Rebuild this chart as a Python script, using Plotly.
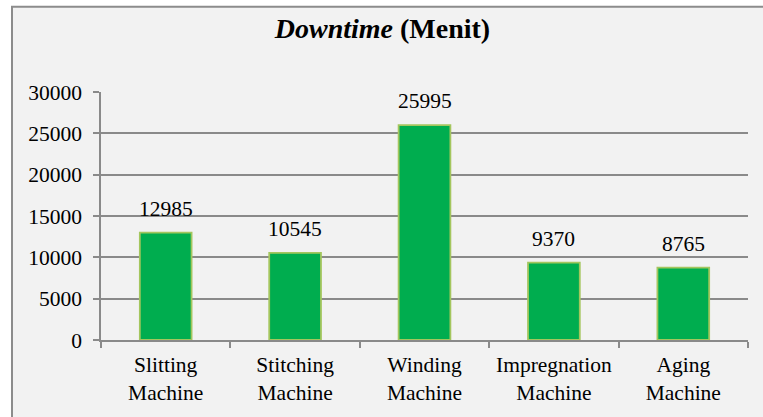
import plotly.graph_objects as go

categories = ["Slitting<br>Machine", "Stitching<br>Machine", "Winding<br>Machine",
              "Impregnation<br>Machine", "Aging<br>Machine"]
values = [12985, 10545, 25995, 9370, 8765]
y_ticks = [0, 5000, 10000, 15000, 20000, 25000, 30000]
y_tick_labels = ["0", "5000", "10000", "15000", "20000", "25000", "30000"]

W, H = 763, 417
ML, MR, MT, MB = 101, 15, 92, 75
pw, ph = W - ML - MR, H - MT - MB

def px_x(p):
    return (p - ML) / pw

def px_y(p):
    return (H - MB - p) / ph

FONT = "Liberation Serif"
FS = 21.5

fig = go.Figure()
fig.add_trace(go.Bar(
    x=categories, y=values,
    marker=dict(color="#00AD4F", line=dict(color="#A4C65E", width=1.8)),
    width=0.4,
    hoverinfo="skip",
))

for c, v in zip(categories, values):
    fig.add_annotation(x=c, y=v, text=str(v), showarrow=False,
                       yanchor="bottom", yshift=10,
                       font=dict(family=FONT, size=FS, color="#000"))

fig.add_shape(type="rect", xref="paper", yref="paper",
              x0=px_x(12), x1=px_x(800), y0=px_y(6), y1=px_y(460),
              fillcolor="#F2F2F2", line=dict(color="#8C8C8C", width=2),
              layer="below")

fig.update_layout(
    width=W, height=H,
    margin=dict(l=ML, r=MR, t=MT, b=MB),
    paper_bgcolor="white",
    plot_bgcolor="rgba(0,0,0,0)",
    showlegend=False,
    title=dict(text="<b><i>Downtime</i> (Menit)</b>", x=382.5 / W, xref="container",
               xanchor="center", y=1 - 28 / H, yanchor="middle",
               font=dict(family=FONT, size=28, color="#000")),
    font=dict(family=FONT, size=FS, color="#000"),
    bargap=0.6,
)
fig.update_yaxes(range=[0, 30000], tickvals=y_ticks, ticktext=y_tick_labels,
                 showgrid=True,
                 gridcolor="#8A8A8A", gridwidth=1.5,
                 showline=True, linecolor="#8A8A8A", linewidth=1.5,
                 ticks="outside", ticklen=6, tickcolor="#8A8A8A", tickwidth=1.5,
                 ticklabelstandoff=7, zeroline=False,
                 tickfont=dict(family=FONT, size=FS, color="#000"))
fig.update_xaxes(showline=True, linecolor="#8A8A8A", linewidth=1.5,
                 ticks="outside", ticklen=6, tickcolor="#8A8A8A", tickwidth=1.5,
                 tickson="boundaries", ticklabelstandoff=4,
                 tickfont=dict(family=FONT, size=FS, color="#000"))

fig.write_html("out.html")
